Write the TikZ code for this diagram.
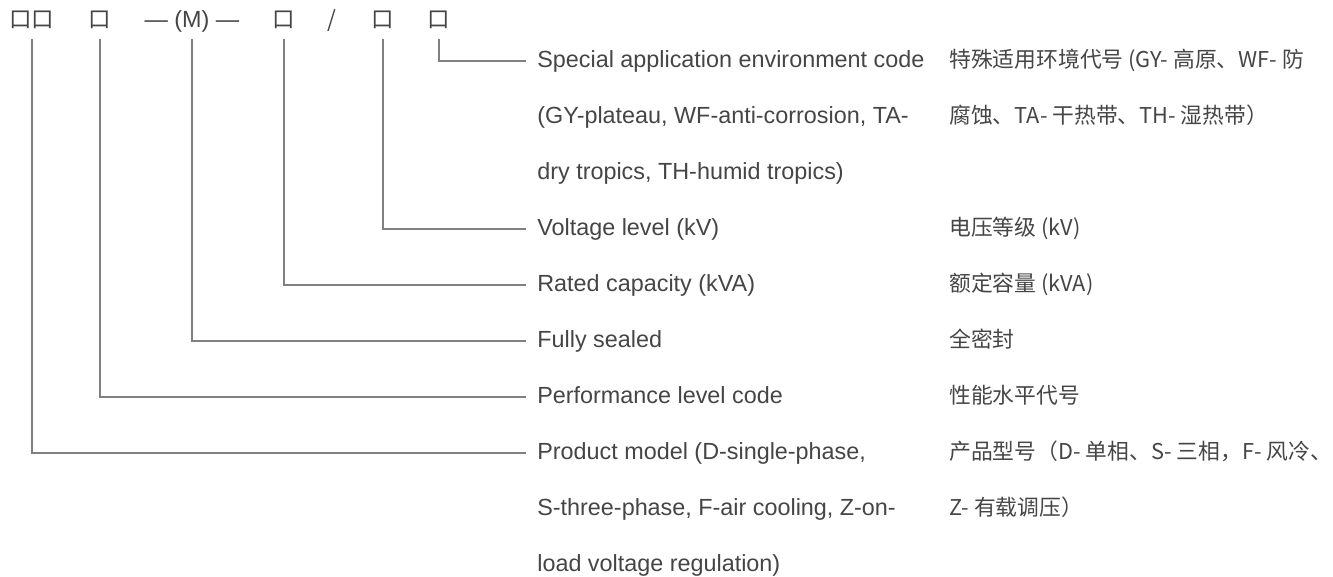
\documentclass[tikz,border=0pt]{standalone}
\usepackage{fontspec}
\setmainfont{Liberation Sans}
\newfontfamily\cjk{Noto Sans CJK SC}
\definecolor{txtgray}{HTML}{454545}
\definecolor{linegray}{HTML}{808080}
\tikzset{
    code/.style={font=\cjk\fontsize{12.8pt}{14pt}\selectfont, text=txtgray, inner xsep=0pt, inner ysep=0.18cm, text height=0.32cm, text depth=0.04cm, anchor=center},
    entext/.style={font=\fontsize{13.3pt}{15pt}\selectfont, text=txtgray, anchor=west, inner sep=0pt, text height=0.32cm, text depth=0.04cm},
    zhtext/.style={entext, font=\cjk\fontsize{12.4pt}{15pt}\selectfont},
    lead/.style={draw=linegray, line width=0.6pt, shorten >=0.22cm}
}
\begin{document}
\begin{tikzpicture}[x=0.02cm, y=-0.02cm]
    \useasboundingbox (0,0) rectangle (1333,577);
    % model code
    \node[code] (pm) at (32, 21) {口口};
    \node[code] (perf) at (100, 21) {口};
    \node[code, font=\fontsize{13.3pt}{15pt}\selectfont] (seal) at (192, 21) {— (M) —};
    \node[code] (cap) at (284, 21) {口};
    \node[code] (slash) at (332, 21) {/};
    \node[code] (volt) at (383, 21) {口};
    \node[code] (env) at (439, 21) {口};
    % english
    \node[entext] (envEn) at (537, 61) {Special application environment code};
    \node[entext] (envEnB) at (537, 117) {(GY-plateau, WF-anti-corrosion, TA-};
    \node[entext] (envEnC) at (537, 173) {dry tropics, TH-humid tropics)};
    \node[entext] (voltEn) at (537, 229) {Voltage level (kV)};
    \node[entext] (capEn) at (537, 285) {Rated capacity (kVA)};
    \node[entext] (sealEn) at (537, 341) {Fully sealed};
    \node[entext] (perfEn) at (537, 397) {Performance level code};
    \node[entext] (pmEn) at (537, 453) {Product model (D-single-phase,};
    \node[entext] (pmEnB) at (537, 509) {S-three-phase, F-air cooling, Z-on-};
    \node[entext] (pmEnC) at (537, 565) {load voltage regulation)};
    % chinese
    \node[zhtext] (envZh) at (949, 61) {特殊适用环境代号 (GY- 高原、WF- 防};
    \node[zhtext] (envZhB) at (949, 117) {腐蚀、TA- 干热带、TH- 湿热带）};
    \node[zhtext] (voltZh) at (949, 229) {电压等级 (kV)};
    \node[zhtext] (capZh) at (949, 285) {额定容量 (kVA)};
    \node[zhtext] (sealZh) at (949, 341) {全密封};
    \node[zhtext] (perfZh) at (949, 397) {性能水平代号};
    \node[zhtext] (pmZh) at (949, 453) {产品型号（D- 单相、S- 三相，F- 风冷、};
    \node[zhtext] (pmZhB) at (949, 509) {Z- 有载调压）};
    % leaders
    \draw[lead] (env.south) |- (envEn.west);
    \draw[lead] (volt.south) |- (voltEn.west);
    \draw[lead] (cap.south) |- (capEn.west);
    \draw[lead] (seal.south) |- (sealEn.west);
    \draw[lead] (perf.south) |- (perfEn.west);
    \draw[lead] (pm.south) |- (pmEn.west);
\end{tikzpicture}
\end{document}
